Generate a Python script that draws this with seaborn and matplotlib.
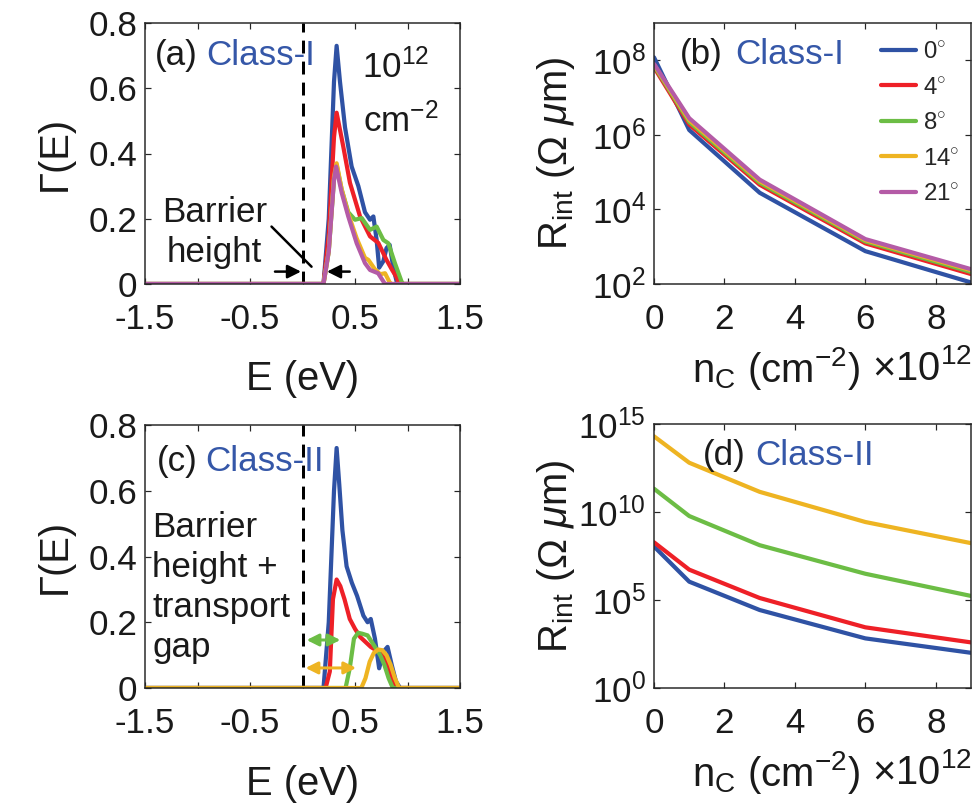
import numpy as np
import pandas as pd
import matplotlib
matplotlib.use("Agg")
import matplotlib.pyplot as plt
import seaborn as sns
from matplotlib.ticker import NullLocator

# ---------------- data ----------------
angles = ["0", "4", "8", "14", "21"]
colors = ["#2F52A4", "#EE2027", "#6CBD45", "#EEB422", "#B45BA6"]
class_blue = "#3557A8"

# Panel (a): transmission Gamma(E), Class-I, 1e12 cm^-2
Ea_0 = [-1.5, 0.20, 0.25, 0.30, 0.325, 0.357, 0.405, 0.468, 0.532, 0.595, 0.643, 0.675, 0.706, 0.73, 0.77, 0.80, 0.83, 0.865, 0.897, 0.92, 1.5]
Ga_0 = [0, 0, 0.20, 0.62, 0.73, 0.62, 0.48, 0.36, 0.30, 0.22, 0.197, 0.207, 0.135, 0.05, 0.07, 0.11, 0.12, 0.05, 0.007, 0, 0]
Ea_4 = [-1.5, 0.20, 0.25, 0.30, 0.325, 0.389, 0.452, 0.548, 0.643, 0.722, 0.80, 0.85, 0.897, 0.92, 1.5]
Ga_4 = [0, 0, 0.15, 0.45, 0.525, 0.42, 0.31, 0.207, 0.146, 0.126, 0.074, 0.045, 0.02, 0, 0]
Ea_8 = [-1.5, 0.20, 0.25, 0.30, 0.325, 0.373, 0.436, 0.50, 0.564, 0.643, 0.706, 0.77, 0.817, 0.88, 0.944, 0.96, 1.5]
Ga_8 = [0, 0, 0.10, 0.32, 0.365, 0.29, 0.22, 0.197, 0.202, 0.166, 0.176, 0.135, 0.125, 0.064, 0.007, 0, 0]
Ea_14 = [-1.5, 0.20, 0.25, 0.30, 0.325, 0.373, 0.436, 0.516, 0.595, 0.627, 0.69, 0.74, 0.786, 0.83, 0.85, 1.5]
Ga_14 = [0, 0, 0.10, 0.33, 0.37, 0.29, 0.215, 0.14, 0.08, 0.074, 0.045, 0.03, 0.033, 0.005, 0, 0]
Ea_21 = [-1.5, 0.20, 0.25, 0.30, 0.32, 0.373, 0.436, 0.516, 0.595, 0.643, 0.72, 0.786, 1.5]
Ga_21 = [0, 0, 0.10, 0.32, 0.36, 0.28, 0.207, 0.125, 0.064, 0.043, 0.033, 0, 0]

# Panel (c): transmission Gamma(E), Class-II
Ec_0 = [-1.5, 0.20, 0.25, 0.30, 0.325, 0.35, 0.38, 0.42, 0.47, 0.52, 0.58, 0.62, 0.65, 0.69, 0.73, 0.77, 0.81, 0.85, 0.89, 0.93, 1.5]
Gc_0 = [0, 0, 0.20, 0.60, 0.73, 0.62, 0.48, 0.37, 0.32, 0.28, 0.22, 0.20, 0.21, 0.15, 0.06, 0.11, 0.125, 0.07, 0.02, 0, 0]
Ec_4 = [-1.5, 0.22, 0.26, 0.29, 0.325, 0.36, 0.40, 0.45, 0.50, 0.55, 0.60, 0.65, 0.70, 0.75, 0.80, 0.85, 0.90, 1.5]
Gc_4 = [0, 0, 0.05, 0.27, 0.33, 0.31, 0.27, 0.21, 0.18, 0.155, 0.14, 0.125, 0.115, 0.105, 0.08, 0.03, 0, 0]
Ec_8 = [-1.5, 0.41, 0.45, 0.49, 0.53, 0.57, 0.62, 0.66, 0.70, 0.74, 0.78, 0.82, 0.86, 1.5]
Gc_8 = [0, 0, 0.06, 0.15, 0.168, 0.165, 0.16, 0.14, 0.12, 0.10, 0.07, 0.03, 0, 0]
Ec_14 = [-1.5, 0.56, 0.60, 0.64, 0.68, 0.72, 0.76, 0.80, 0.84, 0.88, 0.92, 1.5]
Gc_14 = [0, 0, 0.03, 0.08, 0.107, 0.117, 0.115, 0.10, 0.07, 0.03, 0, 0]

# Panels (b), (d): interface resistance vs carrier density
nC = [0, 1, 3, 6, 9]
Rb_0 = [1.2e8, 1.35e6, 2.8e4, 760, 110]
Rb_4 = [6.5e7, 1.9e6, 4.6e4, 1230, 185]
Rb_8 = [7.2e7, 2.2e6, 5.2e4, 1380, 210]
Rb_14 = [7.6e7, 2.5e6, 5.8e4, 1500, 235]
Rb_21 = [8.0e7, 2.8e6, 6.3e4, 1600, 250]
Rd_0 = [1.1e8, 1.1e6, 2.7e4, 660, 100]
Rd_4 = [1.9e8, 5.3e6, 1.3e5, 2.8e3, 390]
Rd_8 = [2.1e11, 5.9e9, 1.3e8, 3.1e6, 1.7e5]
Rd_14 = [2.0e14, 6.3e12, 1.4e11, 2.7e9, 1.7e8]

# ---------------- style ----------------
sns.set_style("ticks")
plt.rcParams["font.family"] = ["Liberation Sans", "DejaVu Sans"]
plt.rcParams["mathtext.fontset"] = "custom"
plt.rcParams["mathtext.rm"] = "Liberation Sans"
plt.rcParams["mathtext.it"] = "Liberation Sans:italic"
plt.rcParams["mathtext.bf"] = "Liberation Sans:bold"
plt.rcParams["mathtext.sf"] = "Liberation Sans"

W, H = 974, 809
fig = plt.figure(figsize=(W / 72, H / 72), dpi=72)
fig.patch.set_facecolor("white")


def rect(l, t, r, b):
    return [l / W, 1 - b / H, (r - l) / W, (b - t) / H]


ax_a = fig.add_axes(rect(145, 23, 460, 284))
ax_b = fig.add_axes(rect(654, 23, 971, 284))
ax_c = fig.add_axes(rect(145, 425, 460, 688))
ax_d = fig.add_axes(rect(654, 424, 971, 688))

TXT = "#1a1a1a"
TICK_FS = 35
LAB_FS = 40
ANN_FS = 35


def style(ax):
    ax.tick_params(direction="in", length=6, width=1.2, top=True, right=True,
                   labelsize=TICK_FS, pad=8, color="#262626", labelcolor=TXT)
    ax.tick_params(axis="x", pad=19)
    for s in ax.spines.values():
        s.set_linewidth(1.5)
        s.set_color("#262626")
        s.set_visible(True)


def line(ax, x, y, c, label=None, lw=4.2):
    sns.lineplot(x=x, y=y, ax=ax, color=c, linewidth=lw, estimator=None,
                 sort=False, label=label, legend=False)


# ---------------- panel (a) ----------------
ax = ax_a
for E, G, c in zip([Ea_0, Ea_4, Ea_8, Ea_14, Ea_21],
                   [Ga_0, Ga_4, Ga_8, Ga_14, Ga_21], colors):
    line(ax, E, G, c)
ax.axvline(0, color="k", lw=3, ls=(0, (4.3, 2.7)), zorder=1)
ax.set_xlim(-1.5, 1.5)
ax.set_ylim(0, 0.8)

# ---------------- panel (c) ----------------
ax = ax_c
for E, G, c in zip([Ec_0, Ec_4, Ec_8, Ec_14], [Gc_0, Gc_4, Gc_8, Gc_14], colors[:4]):
    line(ax, E, G, c)
ax.axvline(0, color="k", lw=3, ls=(0, (4.3, 2.7)), zorder=1)
ax.set_xlim(-1.5, 1.5)
ax.set_ylim(0, 0.8)

for ax, lab in [(ax_a, "a"), (ax_c, "c")]:
    style(ax)
    ax.set_xticks([-1.5, -1, -0.5, 0, 0.5, 1, 1.5])
    ax.set_xticklabels(["-1.5", "", "-0.5", "", "0.5", "", "1.5"])
    ax.set_yticks([0, 0.2, 0.4, 0.6, 0.8])
    ax.set_yticklabels(["0", "0.2", "0.4", "0.6", "0.8"])
    ax.set_ylabel("Γ(E)", fontsize=LAB_FS, color=TXT, va="center")
    ax.yaxis.set_label_coords((55 - 145) / 315, 0.5)
    ax.set_xlabel("E (eV)", fontsize=LAB_FS, color=TXT, va="center")
    ax.xaxis.set_label_coords(0.5, -95 / 261)

# annotations (a)
ax = ax_a
ax.text(-1.405, 0.672, "(a)", fontsize=ANN_FS, color=TXT, va="baseline")
ax.text(-0.912, 0.672, "Class-I", fontsize=ANN_FS, color=class_blue, va="baseline")
ax.text(0.567, 0.632, "10$^{12}$", fontsize=ANN_FS, color=TXT, va="baseline")
ax.text(0.576, 0.466, "cm$^{\\mathregular{-2}}$", fontsize=ANN_FS, color=TXT, va="baseline")
ax.text(-1.338, 0.19, "Barrier", fontsize=ANN_FS, color=TXT, va="baseline")
ax.text(-1.29, 0.067, "height", fontsize=ANN_FS, color=TXT, va="baseline")
ax.plot([-0.295, 0.086], [0.176, 0.053], color="k", lw=2.5)
ax.annotate("", xy=(0.005, 0.038), xytext=(-0.281, 0.038),
            arrowprops=dict(arrowstyle="-|>", color="k", lw=2.5, mutation_scale=28))
ax.annotate("", xy=(0.214, 0.038), xytext=(0.469, 0.038),
            arrowprops=dict(arrowstyle="-|>", color="k", lw=2.5, mutation_scale=28))

# annotations (c)
ax = ax_c
ax.text(-1.386, 0.66, "(c)", fontsize=ANN_FS, color=TXT, va="baseline")
ax.text(-0.929, 0.66, "Class-II", fontsize=ANN_FS, color=class_blue, va="baseline")
for s, yb in zip(["Barrier", "height +", "transport", "gap"], [0.459, 0.337, 0.216, 0.094]):
    ax.text(-1.433, yb, s, fontsize=ANN_FS, color=TXT, va="baseline")
ax.annotate("", xy=(0.02, 0.146), xytext=(0.38, 0.146),
            arrowprops=dict(arrowstyle="<|-|>", color=colors[2], lw=3, mutation_scale=25))
ax.annotate("", xy=(0.01, 0.061), xytext=(0.53, 0.061),
            arrowprops=dict(arrowstyle="<|-|>", color=colors[3], lw=3, mutation_scale=25))

# ---------------- panel (b) ----------------
ax = ax_b
for R, c, a in zip([Rb_0, Rb_4, Rb_8, Rb_14, Rb_21], colors, angles):
    line(ax, nC, R, c, label=a + r"$^{\circ}$")
ax.set_yscale("log")
ax.set_ylim(1e2, 1e9)
ax.set_yticks([1e2, 1e4, 1e6, 1e8])
ax.set_yticklabels(["10$^{2}$", "10$^{4}$", "10$^{6}$", "10$^{8}$"])
ax.legend(loc="upper right", bbox_to_anchor=(0.965, 0.93), frameon=False,
          fontsize=24, handlelength=1.45, handletextpad=0.3, labelspacing=0.56,
          borderpad=0, borderaxespad=0)
ax.text(26 / 317, 0.843, "(b)", transform=ax.transAxes, fontsize=ANN_FS, color=TXT, va="baseline")
ax.text(81 / 317, 0.843, "Class-I", transform=ax.transAxes, fontsize=ANN_FS, color=class_blue, va="baseline")

# ---------------- panel (d) ----------------
ax = ax_d
for R, c in zip([Rd_0, Rd_4, Rd_8, Rd_14], colors[:4]):
    line(ax, nC, R, c)
ax.set_yscale("log")
ax.set_ylim(1e0, 1e15)
ax.set_yticks([1e0, 1e5, 1e10, 1e15])
ax.set_yticklabels(["10$^{0}$", "10$^{5}$", "10$^{10}$", "10$^{15}$"])
ax.text(0.155, 0.845, "(d)", transform=ax.transAxes, fontsize=ANN_FS, color=TXT, va="baseline")
ax.text(0.319, 0.845, "Class-II", transform=ax.transAxes, fontsize=ANN_FS, color=class_blue, va="baseline")

for ax, hpx in [(ax_b, 261), (ax_d, 264)]:
    style(ax)
    ax.yaxis.set_minor_locator(NullLocator())
    ax.set_xlim(0, 9)
    ax.set_xticks([0, 2, 4, 6, 8])
    ax.set_xticklabels(["0", "2", "4", "6", "8"])
    ax.set_ylabel(r"R$_{\mathregular{int}}$ ($\Omega$ $\mu$m)", fontsize=LAB_FS, color=TXT, va="center")
    ax.yaxis.set_label_coords((556 - 654) / 317, 0.5)
    ax.set_xlabel(r"n$_{\mathregular{C}}$ (cm$^{\mathregular{-2}}$)", fontsize=LAB_FS, color=TXT, va="center")
    ax.xaxis.set_label_coords((776 - 654) / 317, -84 / hpx)
    ax.text((872 - 654) / 317, -96 / hpx, r"$\times$10$^{12}$", transform=ax.transAxes,
            fontsize=LAB_FS, color=TXT, va="baseline")

fig.savefig("out.png", dpi=72, facecolor="white")
